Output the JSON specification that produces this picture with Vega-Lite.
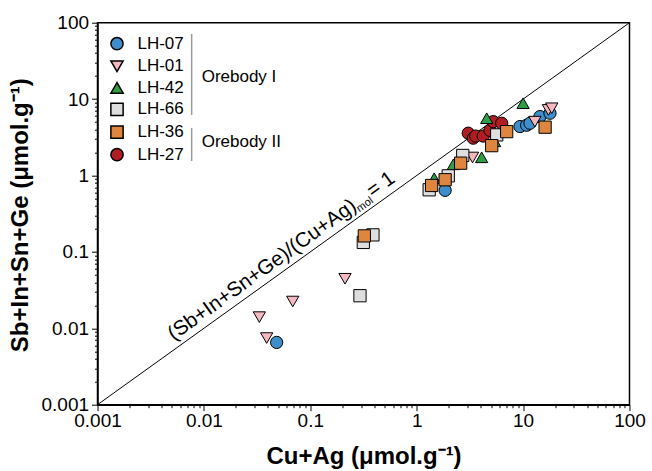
{
  "$schema": "https://vega.github.io/schema/vega-lite/v6.json",
  "width": 532,
  "height": 382,
  "autosize": {"type": "none"},
  "padding": {"left": 97.5, "top": 22.7, "right": 22.5, "bottom": 66},
  "background": "white",
  "config": {
    "font": "Liberation Sans",
    "view": {"stroke": "black", "strokeWidth": 1.5},
    "axis": {
      "grid": false,
      "domainColor": "black",
      "domainWidth": 1.5,
      "tickColor": "black",
      "tickWidth": 1,
      "labelColor": "black",
      "labelFont": "Liberation Sans",
      "labelFontSize": 19,
      "labelOverlap": false,
      "labelFlush": false,
      "labelBound": false,
      "titleColor": "black",
      "titleFont": "Liberation Sans",
      "titleFontSize": 24,
      "titleFontWeight": "bold"
    }
  },
  "encoding": {
    "x": {
      "field": "x",
      "type": "quantitative",
      "scale": {"type": "log", "domain": [0.001, 100], "nice": false},
      "axis": {
        "values": [0.001, 0.002, 0.003, 0.004, 0.005, 0.006, 0.007, 0.008, 0.009, 0.01, 0.02, 0.03, 0.04, 0.05, 0.06, 0.07, 0.08, 0.09, 0.1, 0.2, 0.3, 0.4, 0.5, 0.6, 0.7, 0.8, 0.9, 1, 2, 3, 4, 5, 6, 7, 8, 9, 10, 20, 30, 40, 50, 60, 70, 80, 90, 100],
        "labelExpr": "indexof([0.001, 0.01, 0.1, 1, 10, 100], datum.value) >= 0 ? datum.value + '' : ''",
        "tickSize": {"condition": {"test": "indexof([0.001, 0.01, 0.1, 1, 10, 100], datum.value) >= 0", "value": 6}, "value": 3},
        "labelPadding": 1,
        "title": "Cu+Ag (μmol.g⁻¹)",
        "titleX": 266,
        "titleY": 59,
        "titleAlign": "center",
        "titleBaseline": "alphabetic"
      }
    },
    "y": {
      "field": "y",
      "type": "quantitative",
      "scale": {"type": "log", "domain": [0.001, 100], "nice": false},
      "axis": {
        "values": [0.001, 0.002, 0.003, 0.004, 0.005, 0.006, 0.007, 0.008, 0.009, 0.01, 0.02, 0.03, 0.04, 0.05, 0.06, 0.07, 0.08, 0.09, 0.1, 0.2, 0.3, 0.4, 0.5, 0.6, 0.7, 0.8, 0.9, 1, 2, 3, 4, 5, 6, 7, 8, 9, 10, 20, 30, 40, 50, 60, 70, 80, 90, 100],
        "labelExpr": "indexof([0.001, 0.01, 0.1, 1, 10, 100], datum.value) >= 0 ? datum.value + '' : ''",
        "tickSize": {"condition": {"test": "indexof([0.001, 0.01, 0.1, 1, 10, 100], datum.value) >= 0", "value": 6}, "value": 3},
        "labelPadding": 3,
        "title": "Sb+In+Sn+Ge (μmol.g⁻¹)",
        "titleAngle": -90,
        "titleX": -70,
        "titleY": 192,
        "titleAlign": "center",
        "titleBaseline": "alphabetic"
      }
    }
  },
  "layer": [
    {
      "data": {"values": [{"x": 0.001, "y": 0.001}, {"x": 100, "y": 100}]},
      "mark": {"type": "line", "color": "black", "strokeWidth": 1, "clip": true},
      "encoding": {}
    },
    {
      "data": {"values": [{"x": 0.0052, "y": 0.0068, "label": "(Sb+In+Sn+Ge)/(Cu+Ag)"}]},
      "mark": {"type": "text", "angle": 324.3, "align": "left", "baseline": "alphabetic", "fontSize": 20.5, "font": "Liberation Sans", "color": "black"},
      "encoding": {"text": {"field": "label"}}
    },
    {
      "data": {"values": [{"x": 0.0052, "y": 0.0068, "label": "mol"}]},
      "mark": {"type": "text", "angle": 324.3, "align": "left", "baseline": "alphabetic", "fontSize": 11, "font": "Liberation Sans", "color": "black", "dx": 226, "dy": 4},
      "encoding": {"text": {"field": "label"}}
    },
    {
      "data": {"values": [{"x": 0.0052, "y": 0.0068, "label": "= 1"}]},
      "mark": {"type": "text", "angle": 324.3, "align": "left", "baseline": "alphabetic", "fontSize": 20.5, "font": "Liberation Sans", "color": "black", "dx": 245, "dy": 0},
      "encoding": {"text": {"field": "label"}}
    },
    {
      "data": {"values": [
        {"x": 0.00767, "y": 71.1, "y2": 6.21},
        {"x": 0.00767, "y": 4.2, "y2": 1.55}
      ]},
      "mark": {"type": "rule", "color": "#9a9a9a", "strokeWidth": 1.5},
      "encoding": {"y2": {"field": "y2"}}
    },
    {
      "data": {"values": [
        {"x": 0.00953, "y": 19.7, "label": "Orebody I"},
        {"x": 0.00953, "y": 2.78, "label": "Orebody II"}
      ]},
      "mark": {"type": "text", "align": "left", "baseline": "middle", "fontSize": 17, "font": "Liberation Sans", "color": "black"},
      "encoding": {"text": {"field": "label"}}
    },
    {
      "data": {"values": [
        {"sample": "LH-27", "x": 3.05, "y": 3.58},
        {"sample": "LH-27", "x": 3.4, "y": 3.08},
        {"sample": "LH-27", "x": 3.59, "y": 3.28},
        {"sample": "LH-27", "x": 4.22, "y": 3.28},
        {"sample": "LH-27", "x": 4.88, "y": 3.9},
        {"sample": "LH-27", "x": 5.25, "y": 5.07},
        {"sample": "LH-27", "x": 6.29, "y": 4.83},
        {"sample": "LH-07", "x": 0.0483, "y": 0.00653},
        {"sample": "LH-07", "x": 1.85, "y": 0.64},
        {"sample": "LH-07", "x": 9.35, "y": 4.37},
        {"sample": "LH-07", "x": 10.8, "y": 4.55},
        {"sample": "LH-07", "x": 11.6, "y": 4.83},
        {"sample": "LH-07", "x": 14.4, "y": 5.9},
        {"sample": "LH-07", "x": 17.9, "y": 6.53},
        {"sample": "LH-01", "x": 0.0332, "y": 0.014},
        {"sample": "LH-01", "x": 0.0389, "y": 0.00745},
        {"sample": "LH-01", "x": 0.0684, "y": 0.0224},
        {"sample": "LH-01", "x": 0.212, "y": 0.0445},
        {"sample": "LH-01", "x": 3.35, "y": 1.72},
        {"sample": "LH-01", "x": 12.9, "y": 5.07},
        {"sample": "LH-01", "x": 17.3, "y": 7.22},
        {"sample": "LH-01", "x": 18.6, "y": 7.59},
        {"sample": "LH-42", "x": 10.0, "y": 8.83},
        {"sample": "LH-42", "x": 4.55, "y": 5.62},
        {"sample": "LH-42", "x": 4.08, "y": 1.73},
        {"sample": "LH-42", "x": 2.21, "y": 1.4},
        {"sample": "LH-42", "x": 1.46, "y": 0.92},
        {"sample": "LH-42", "x": 5.4, "y": 2.8},
        {"sample": "LH-66", "x": 0.293, "y": 0.0267},
        {"sample": "LH-66", "x": 0.315, "y": 0.133},
        {"sample": "LH-66", "x": 0.388, "y": 0.167},
        {"sample": "LH-66", "x": 1.31, "y": 0.65},
        {"sample": "LH-66", "x": 1.98, "y": 0.99},
        {"sample": "LH-66", "x": 2.71, "y": 1.83},
        {"sample": "LH-66", "x": 5.65, "y": 3.4},
        {"sample": "LH-36", "x": 0.322, "y": 0.162},
        {"sample": "LH-36", "x": 1.38, "y": 0.74},
        {"sample": "LH-36", "x": 1.85, "y": 0.88},
        {"sample": "LH-36", "x": 2.59, "y": 1.45},
        {"sample": "LH-36", "x": 5.07, "y": 2.46},
        {"sample": "LH-36", "x": 7.01, "y": 3.75},
        {"sample": "LH-36", "x": 16.1, "y": 4.29}
      ]},
      "mark": {"type": "point", "filled": true, "size": 150, "stroke": "black", "strokeWidth": 1, "opacity": 1},
      "encoding": {
        "color": {
          "field": "sample",
          "type": "nominal",
          "scale": {
            "domain": ["LH-07", "LH-01", "LH-42", "LH-66", "LH-36", "LH-27"],
            "range": ["#3d8ecb", "#f5b8c0", "#2e9e44", "#dedede", "#de8640", "#b01e23"]
          },
          "legend": {"orient": "none", "legendX": 11, "legendY": 12.5, "title": null, "padding": 0, "labelFontSize": 17, "labelFont": "Liberation Sans", "labelColor": "black", "symbolSize": 150, "rowPadding": 3.6, "labelOffset": 12,
            "encode": {"symbols": {"update": {"stroke": {"value": "black"}, "strokeWidth": {"value": 1}, "opacity": {"value": 1}}}}}
        },
        "shape": {
          "field": "sample",
          "type": "nominal",
          "scale": {
            "domain": ["LH-07", "LH-01", "LH-42", "LH-66", "LH-36", "LH-27"],
            "range": ["circle", "triangle-down", "triangle-up", "square", "square", "circle"]
          },
          "legend": {"orient": "none", "legendX": 11, "legendY": 12.5, "title": null, "padding": 0, "labelFontSize": 17, "labelFont": "Liberation Sans", "labelColor": "black", "symbolSize": 150, "rowPadding": 3.6, "labelOffset": 12,
            "encode": {"symbols": {"update": {"stroke": {"value": "black"}, "strokeWidth": {"value": 1}, "opacity": {"value": 1}}}}}
        }
      }
    }
  ]
}
